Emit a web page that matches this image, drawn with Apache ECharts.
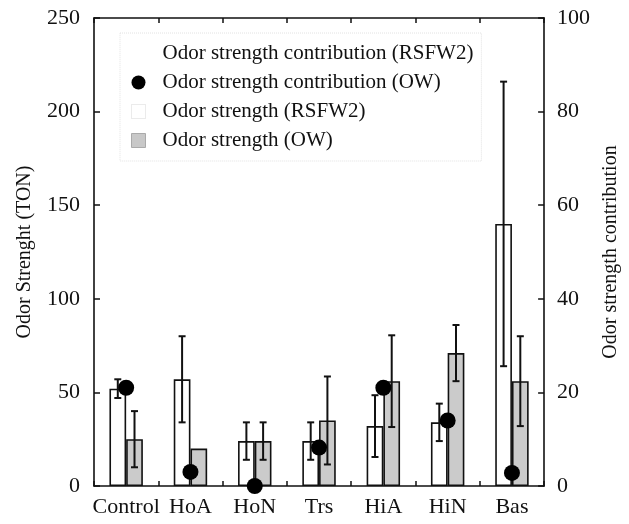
<!DOCTYPE html>
<html>
<head>
<meta charset="utf-8">
<script src="https://cdn.jsdelivr.net/npm/echarts@6/dist/echarts.min.js"></script>
<style>
  html, body { margin: 0; padding: 0; background: #fff; }
  #chart { width: 629px; height: 524px; }
</style>
</head>
<body>
<div id="chart"></div>
<script>
// Sample groups along the x axis
const categories = ['Control', 'HoA', 'HoN', 'Trs', 'HiA', 'HiN', 'Bas'];

// Odor strength (TON), left axis
const strengthRSFW2 = [52, 57, 24, 24, 32, 34, 140];
const strengthRSFW2Err = [5, 23, 10, 10, 16.5, 10, 76];
const strengthOW = [25, 20, 24, 35, 56, 71, 56];
const strengthOWErr = [15, null, 10, 23.5, 24.5, 15, 24];

// Odor strength contribution, right axis
const contributionRSFW2 = [];
const contributionOW = [21, 3, 0, 8.2, 21, 14, 2.8];

// Axis ticks
const leftTicks = { min: 0, max: 250, interval: 50 };
const rightTicks = { min: 0, max: 100, interval: 20 };

const FONT = 'Liberation Serif';
const INK = '#111';

function errRows(vals, errs) {
  const rows = [];
  vals.forEach((v, i) => {
    if (errs[i] != null) rows.push([i, v - errs[i], v + errs[i]]);
  });
  return rows;
}

// Draws a capped vertical error bar, shifted to sit over one bar of the pair
function errorBarRenderer(shift) {
  return function (params, api) {
    const lo = api.coord([api.value(0), api.value(1)]);
    const hi = api.coord([api.value(0), api.value(2)]);
    const band = api.size([1, 0])[0];
    const x = lo[0] + shift * band;
    const cap = 3.5;
    const style = { stroke: INK, lineWidth: 2 };
    return {
      type: 'group',
      children: [
        { type: 'line', shape: { x1: x, y1: lo[1], x2: x, y2: hi[1] }, style },
        { type: 'line', shape: { x1: x - cap, y1: lo[1], x2: x + cap, y2: lo[1] }, style },
        { type: 'line', shape: { x1: x - cap, y1: hi[1], x2: x + cap, y2: hi[1] }, style }
      ]
    };
  };
}

const BAR_FRAC = 0.26;
const axisLineStyle = { color: INK, width: 1.6 };
const tickStyle = { show: true, inside: true, length: 5, lineStyle: { color: INK, width: 1.5 } };

const chart = echarts.init(document.getElementById('chart'));
chart.setOption({
  animation: false,
  backgroundColor: '#fff',
  textStyle: { fontFamily: FONT, color: INK },
  grid: { left: 94, right: 79, top: 18, bottom: 38 },
  legend: {
    orient: 'vertical',
    left: 120,
    top: 33,
    padding: [10, 8, 10, 11],
    itemWidth: 14,
    itemHeight: 14,
    itemGap: 8,
    borderColor: '#e2e2e2',
    borderWidth: 1,
    borderType: 'dotted',
    textStyle: { fontFamily: FONT, fontSize: 21, color: INK, lineHeight: 21, padding: [0, 0, 0, 12] },
    data: [
      { name: 'Odor strength contribution (RSFW2)', icon: 'circle', itemStyle: { color: '#fff', borderColor: '#fff' } },
      { name: 'Odor strength contribution (OW)', icon: 'circle', itemStyle: { color: '#000', opacity: 1 } },
      { name: 'Odor strength (RSFW2)', icon: 'rect', itemStyle: { color: '#fff', borderColor: '#d6d6d6', borderWidth: 1, borderType: 'dotted' } },
      { name: 'Odor strength (OW)', icon: 'rect', itemStyle: { color: '#c8c8c8', borderColor: '#aaa', borderWidth: 1 } }
    ]
  },
  xAxis: [
    {
      type: 'category',
      data: categories,
      position: 'bottom',
      axisLine: { show: true, lineStyle: axisLineStyle },
      axisTick: tickStyle,
      axisLabel: { interval: 0, fontFamily: FONT, fontSize: 22, color: INK, margin: 10 }
    },
    {
      type: 'category',
      data: categories,
      position: 'top',
      axisLine: { show: true, onZero: false, lineStyle: axisLineStyle },
      axisTick: tickStyle,
      axisLabel: { show: false }
    }
  ],
  yAxis: [
    {
      type: 'value',
      min: leftTicks.min, max: leftTicks.max, interval: leftTicks.interval,
      name: 'Odor Strenght (TON)',
      nameLocation: 'middle',
      nameGap: 59,
      nameTextStyle: { fontFamily: FONT, fontSize: 20, color: INK },
      axisLine: { show: true, lineStyle: axisLineStyle },
      axisTick: { show: true, inside: true, length: 6, lineStyle: { color: INK, width: 1.5 } },
      axisLabel: { fontFamily: FONT, fontSize: 22, color: INK, margin: 14 },
      splitLine: { show: false }
    },
    {
      type: 'value',
      min: rightTicks.min, max: rightTicks.max, interval: rightTicks.interval,
      name: 'Odor strength contribution',
      nameLocation: 'middle',
      nameGap: 46,
      nameRotate: 90,
      nameTextStyle: { fontFamily: FONT, fontSize: 20, color: INK },
      axisLine: { show: true, lineStyle: axisLineStyle },
      axisTick: { show: true, inside: true, length: 6, lineStyle: { color: INK, width: 1.5 } },
      axisLabel: { fontFamily: FONT, fontSize: 22, color: INK, margin: 13 },
      splitLine: { show: false }
    }
  ],
  series: [
    {
      name: 'Odor strength contribution (RSFW2)',
      type: 'scatter',
      yAxisIndex: 1,
      data: contributionRSFW2,
      symbolSize: 16,
      itemStyle: { color: '#fff' }
    },
    {
      name: 'Odor strength contribution (OW)',
      type: 'scatter',
      yAxisIndex: 1,
      data: contributionOW,
      symbolSize: 16,
      clip: false,
      z: 10,
      itemStyle: { color: '#000', opacity: 1 }
    },
    {
      name: 'Odor strength (RSFW2)',
      type: 'bar',
      data: strengthRSFW2,
      barWidth: (BAR_FRAC * 100) + '%',
      barGap: '0%',
      itemStyle: { color: '#fff', borderColor: INK, borderWidth: 1.6 }
    },
    {
      name: 'Odor strength (OW)',
      type: 'bar',
      data: strengthOW,
      barWidth: (BAR_FRAC * 100) + '%',
      barGap: '0%',
      itemStyle: { color: '#cbcbcb', borderColor: INK, borderWidth: 1.6 }
    },
    {
      type: 'custom',
      renderItem: errorBarRenderer(-BAR_FRAC / 2),
      data: errRows(strengthRSFW2, strengthRSFW2Err),
      encode: { x: 0, y: [1, 2] },
      z: 5
    },
    {
      type: 'custom',
      renderItem: errorBarRenderer(BAR_FRAC / 2),
      data: errRows(strengthOW, strengthOWErr),
      encode: { x: 0, y: [1, 2] },
      z: 5
    }
  ]
});
</script>
</body>
</html>
